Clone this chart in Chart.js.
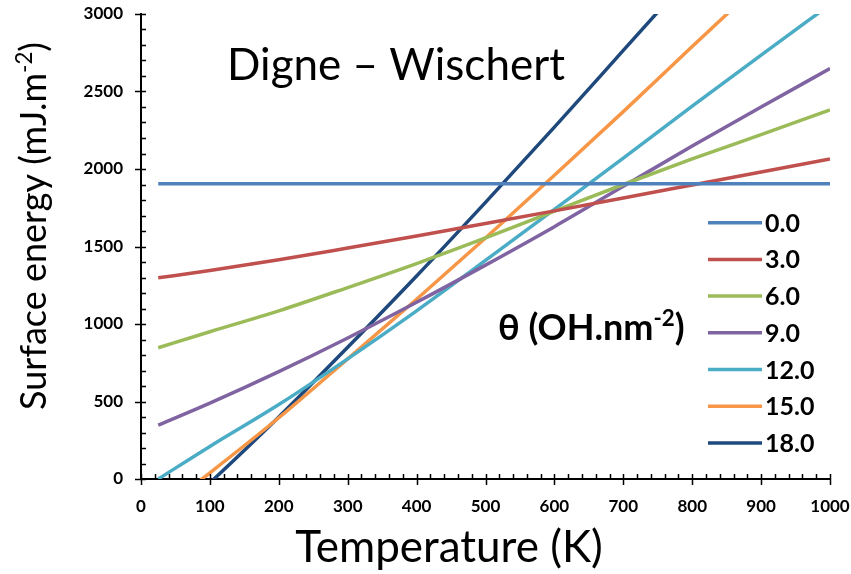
<!DOCTYPE html>
<html>
<head>
<meta charset="utf-8">
<script src="https://cdn.jsdelivr.net/npm/chart.js@4.4.1/dist/chart.umd.min.js"></script>
<style>
  html, body { margin: 0; padding: 0; background: #fff; }
  canvas { display: block; }
</style>
</head>
<body>
<canvas id="chart" width="851" height="574"></canvas>
<script>
"use strict";

// temperatures (K) where the curves were read
const temps = [25, 100, 200, 300, 400, 500, 600, 700, 800, 900, 1000];

// surface energy (mJ.m-2) for each coverage theta (OH.nm-2)
const theta0 = [1905, 1905, 1905, 1905, 1905, 1905, 1905, 1905, 1905, 1905, 1905];
const theta3 = [1298, 1345, 1414, 1490, 1568, 1648, 1730, 1813, 1897, 1981, 2065];
const theta6 = [847, 950, 1085, 1235, 1390, 1555, 1728, 1900, 2065, 2222, 2381];
const theta9 = [348, 490, 693, 910, 1140, 1380, 1628, 1888, 2148, 2400, 2648];
const theta12 = [0, 210, 480, 775, 1085, 1410, 1740, 2070, 2405, 2735, 3060];
const theta15 = [-215, 40, 395, 775, 1160, 1555, 1960, 2370, 2790, 3205, null];
const theta18 = [-330, -25, 400, 850, 1310, 1785, 2270, 2765, 3260, null, null];

const seriesLabels = ["0.0", "3.0", "6.0", "9.0", "12.0", "15.0", "18.0"];
const seriesValues = [theta0, theta3, theta6, theta9, theta12, theta15, theta18];
const seriesColors = ["#4F81BD", "#C0504D", "#9BBB59", "#8064A2", "#4BACC6", "#F79646", "#1F497D"];

const xTicks = [0, 100, 200, 300, 400, 500, 600, 700, 800, 900, 1000];
const yTicks = [0, 500, 1000, 1500, 2000, 2500, 3000];

const FONT = "Lato, 'Open Sans', sans-serif";

let datasets = [];
for (let i = 0; i < seriesLabels.length; i++) {
    let pts = [];
    for (let j = 0; j < temps.length; j++) {
        if (seriesValues[i][j] !== null) pts.push({ x: temps[j], y: seriesValues[i][j] });
    }
    datasets.push({
        label: seriesLabels[i],
        data: pts,
        borderColor: seriesColors[i],
        backgroundColor: seriesColors[i],
        borderWidth: 3.5,
        pointRadius: 0,
        cubicInterpolationMode: "monotone",
        fill: false
    });
}

// draws text with a superscript part, left aligned from x
function drawParts(ctx, parts, x, y, size, weight) {
    let cx = x;
    for (const p of parts) {
        const s = p.sup ? size * 0.62 : size;
        ctx.font = weight + " " + s + "px " + FONT;
        ctx.fillText(p.t, cx, p.sup ? y - size * 0.38 : y);
        cx += ctx.measureText(p.t).width;
    }
}
function partsWidth(ctx, parts, size, weight) {
    let w = 0;
    for (const p of parts) {
        const s = p.sup ? size * 0.62 : size;
        ctx.font = weight + " " + s + "px " + FONT;
        w += ctx.measureText(p.t).width;
    }
    return w;
}

const decorations = {
    id: "decorations",
    afterDraw(chart) {
        const ctx = chart.ctx;
        const xs = chart.scales.x;
        const ys = chart.scales.y;
        const x0 = xs.getPixelForValue(0);
        const y0 = ys.getPixelForValue(0);
        ctx.save();
        ctx.strokeStyle = "#000";
        ctx.lineWidth = 1.5;
        ctx.beginPath();
        // x ticks: major cross the axis, minor inside
        for (let v = 0; v <= 1000; v += 20) {
            const px = Math.round(xs.getPixelForValue(v)) + 0.5;
            if (v % 100 === 0) { ctx.moveTo(px, y0 - 5); ctx.lineTo(px, y0 + 6); }
            else { ctx.moveTo(px, y0 - 5); ctx.lineTo(px, y0); }
        }
        for (let v = 0; v <= 3000; v += 100) {
            const py = Math.round(ys.getPixelForValue(v)) + 0.5;
            if (v % 500 === 0) { ctx.moveTo(x0 - 6, py); ctx.lineTo(x0 + 5, py); }
            else { ctx.moveTo(x0, py); ctx.lineTo(x0 + 5, py); }
        }
        ctx.stroke();

        ctx.fillStyle = "#000";
        ctx.textBaseline = "alphabetic";

        // chart title
        ctx.font = "44px " + FONT;
        ctx.textAlign = "center";
        ctx.fillText("Digne \u2013 Wischert", 396, 80);

        // x axis title
        ctx.font = "44px " + FONT;
        ctx.fillText("Temperature (K)", 449, 562);

        // y axis title, rotated
        ctx.textAlign = "left";
        const yParts = [{ t: "Surface energy (mJ.m" }, { t: "-2", sup: true }, { t: ")" }];
        const yw = partsWidth(ctx, yParts, 36, "normal");
        ctx.save();
        ctx.translate(46, 226);
        ctx.rotate(-Math.PI / 2);
        drawParts(ctx, yParts, -yw / 2, 0, 36, "normal");
        ctx.restore();

        // coverage label
        const tParts = [{ t: "\u03b8 (OH.nm" }, { t: "-2", sup: true }, { t: ")" }];
        drawParts(ctx, tParts, 498, 340, 36, "bold");

        // legend
        chart.data.datasets.forEach(function (ds, i) {
            const ly = 222.7 + i * 36.7;
            ctx.strokeStyle = ds.borderColor;
            ctx.lineWidth = 3.5;
            ctx.beginPath();
            ctx.moveTo(708, ly);
            ctx.lineTo(762, ly);
            ctx.stroke();
            ctx.font = "bold 25px " + FONT;
            ctx.textBaseline = "middle";
            ctx.fillText(ds.label, 765, ly + 1);
        });
        ctx.restore();
    }
};

// tick marks are drawn by the plugin; the library's own are kept invisible and only set the label gap
const hiddenTicks = { display: true, drawOnChartArea: false, drawTicks: true, color: "rgba(0,0,0,0)" };

const config = {
    type: "line",
    data: { datasets: datasets },
    options: {
        responsive: false,
        animation: false,
        devicePixelRatio: 1,
        layout: { padding: { left: 0, top: 14, right: 21, bottom: 0 } },
        plugins: { legend: { display: false }, tooltip: { enabled: false } },
        scales: {
            x: {
                type: "linear",
                min: 0,
                max: 1000,
                grid: Object.assign({ tickLength: 17 }, hiddenTicks),
                border: { display: true, color: "#000", width: 2 },
                afterBuildTicks: function (scale) { scale.ticks = xTicks.map(v => ({ value: v })); },
                afterFit: function (scale) { scale.height = 95; },
                ticks: { color: "#000", padding: 0, maxRotation: 0, callback: v => String(v), font: { family: FONT, size: 17, weight: "bold" } }
            },
            y: {
                type: "linear",
                min: 0,
                max: 3000,
                grid: Object.assign({ tickLength: 18 }, hiddenTicks),
                border: { display: true, color: "#000", width: 2 },
                afterBuildTicks: function (scale) { scale.ticks = yTicks.map(v => ({ value: v })); },
                afterFit: function (scale) { scale.width = 141; },
                ticks: { color: "#000", padding: 0, callback: v => String(v), font: { family: FONT, size: 17, weight: "bold" } }
            }
        }
    },
    plugins: [decorations]
};

const surfaceChart = new Chart(document.getElementById("chart"), config);
</script>
</body>
</html>
